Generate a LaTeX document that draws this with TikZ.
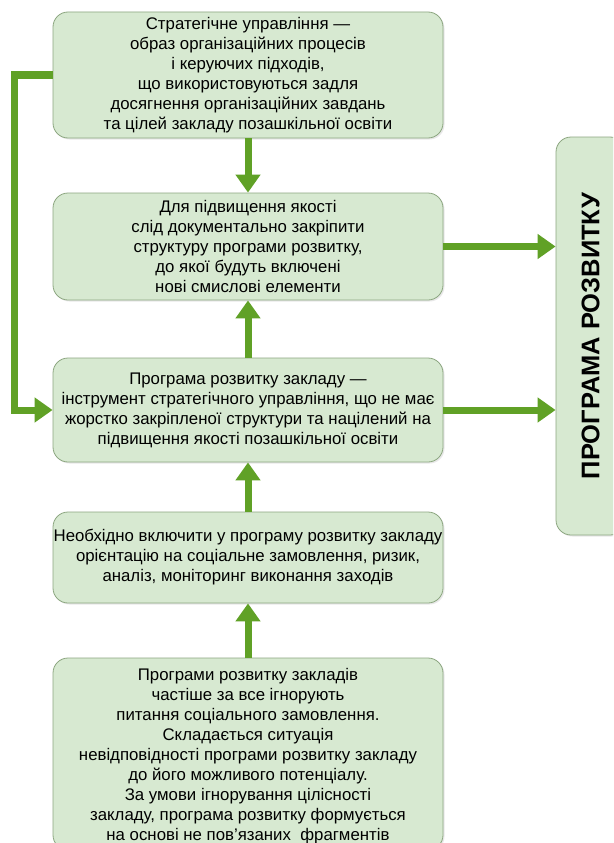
\documentclass[tikz,border=0pt]{standalone}
\usepackage{fontspec}
\setmainfont{Liberation Sans}
\usetikzlibrary{arrows.meta,shadows}
\definecolor{boxfill}{RGB}{215,233,209}
\definecolor{boxline}{RGB}{140,166,128}
\definecolor{arrgreen}{RGB}{96,161,38}
\begin{document}
\begin{tikzpicture}[x=1pt, y=-1pt,
  box/.style={draw=boxline, fill=boxfill, rounded corners=15pt, line width=0.8pt,
    minimum width=390pt, align=center, inner sep=0pt,
    drop shadow={opacity=0.18, shadow xshift=1.5pt, shadow yshift=-1.5pt},
    font=\fontsize{16.8}{20}\selectfont},
  arr/.style={draw=arrgreen, line width=7pt,
    -{Triangle[width=24pt,length=18pt]}}]
\clip (0,0) rectangle (613,843);
\fill[white] (0,0) rectangle (613,843);
\node[box, minimum height=126pt] (strat) at (248,75) {Стратегічне управління —\\образ організаційних процесів\\і керуючих підходів,\\що використовуються задля\\досягнення організаційних завдань\\та цілей закладу позашкільної освіти};
\node[box, minimum height=107pt] (quality) at (248,246.5) {Для підвищення якості\\слід документально закріпити\\структуру програми розвитку,\\до якої будуть включені\\ нові смислові елементи};
\node[box, minimum height=104pt] (tool) at (248,410) {Програма розвитку закладу —\\інструмент стратегічного управління, що не має\\жорстко закріпленої структури та націлений на\\підвищення якості позашкільної освіти};
\node[box, minimum height=91pt] (need) at (248,557.5) {Необхідно включити у програму розвитку закладу\\орієнтацію на соціальне замовлення, ризик,\\аналіз, моніторинг виконання заходів};
\node[box, minimum height=192pt, text depth=0pt] (ignore) at (248,754) {Програми розвитку закладів\\частіше за все ігнорують\\питання соціального замовлення.\\Складається ситуація\\невідповідності програми розвитку закладу\\до його можливого потенціалу.\\За умови ігнорування цілісності\\закладу, програма розвитку формується\\на основі не пов'язаних\ \ фрагментів};
\node[box, minimum width=69pt, minimum height=398pt] (prog) at (590.5,336) {};
\node[rotate=90, font=\fontsize{25.5}{28}\selectfont\bfseries] (progtext) at (prog.center) {ПРОГРАМА РОЗВИТКУ};
% arrows
\draw[arr] (strat.south) -- (quality.north);
\draw[arr] (tool.north) -- (quality.south);
\draw[arr] (need.north) -- (tool.south);
\draw[arr] (ignore.north) -- (need.south);
\draw[arr] (quality.east) -- (quality.east -| prog.west);
\draw[arr] (tool.east) -- (tool.east -| prog.west);
\draw[arr, rounded corners=0pt] (strat.west) -- ++(-38,0) |- (tool.west);
\end{tikzpicture}
\end{document}
